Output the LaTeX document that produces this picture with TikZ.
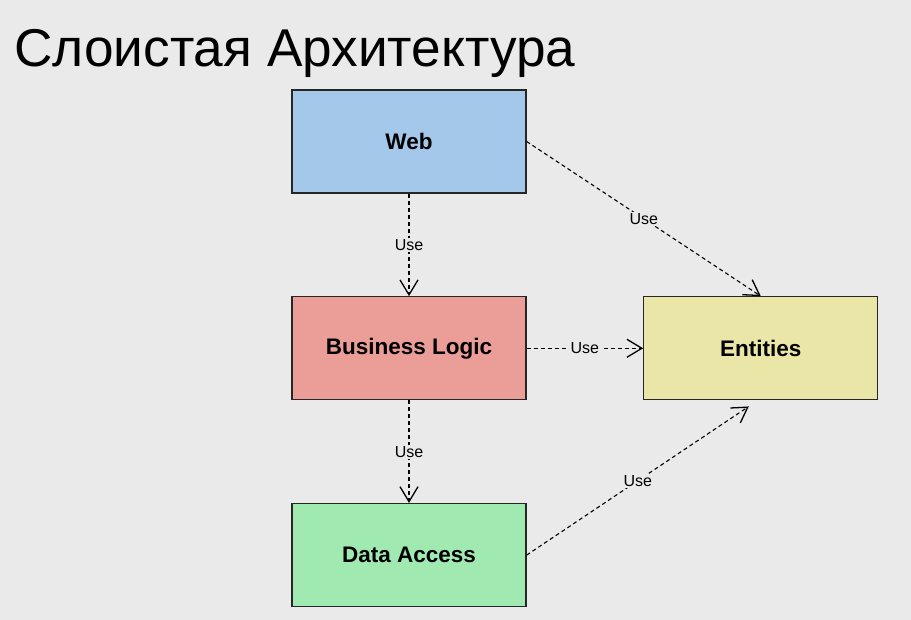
\documentclass[tikz,border=0pt]{standalone}
\usepackage{fontspec}
\setmainfont{Liberation Sans}
\usetikzlibrary{arrows.meta, positioning}

\definecolor{pagebg}{HTML}{EAEAEA}
\definecolor{webblue}{HTML}{A4C8EA}
\definecolor{logicred}{HTML}{EB9E98}
\definecolor{entyellow}{HTML}{EAE6A8}
\definecolor{datagreen}{HTML}{A0EAB2}

\begin{document}
\begin{tikzpicture}[
    x=1pt, y=1pt,
    node distance=102.5pt and 116.5pt,
    layer/.style={rectangle, draw=black!85, line width=1.3pt, minimum width=234pt, minimum height=103pt, align=center, font=\fontsize{22.5}{26}\selectfont\bfseries},
    use/.style={dash pattern=on 4pt off 3pt, line width=1.1pt, -{Straight Barb[length=15pt, width=18pt, line width=1.3pt]}},
    uselabel/.style={font=\fontsize{16}{19}\selectfont, fill=pagebg, inner sep=1.5pt}
]

% Page background and title
\fill[pagebg] (0,0) rectangle (911,620);
\node[anchor=base west, inner sep=0pt, font=\fontsize{53.2}{60}\selectfont] (title) at (14,553) {Слоистая Архитектура};

% Column 1: Web -> Business Logic -> Data Access
\node[layer, fill=webblue] (web) at (409,478.5) {Web};

\node[layer, fill=logicred, below=of web] (logic) {Business Logic};

\node[layer, fill=datagreen, below=of logic] (data) {Data Access};

% Entities to the right of Business Logic
\node[layer, fill=entyellow, right=of logic] (ent) {Entities};

\coordinate (enttip) at ([xshift=-12pt, yshift=-6pt]ent.south);

% Arrows - down the column
\draw[use] (web) -- (logic) node[midway, uselabel] {Use};
\draw[use] (logic) -- (data) node[midway, uselabel] {Use};

% Arrows - into Entities
\draw[use] (web.east) -- (ent.north) node[midway, uselabel] {Use};
\draw[use] (logic) -- (ent) node[midway, uselabel] {Use};
\draw[use] (data.east) -- (enttip) node[midway, uselabel] {Use};

\end{tikzpicture}
\end{document}
